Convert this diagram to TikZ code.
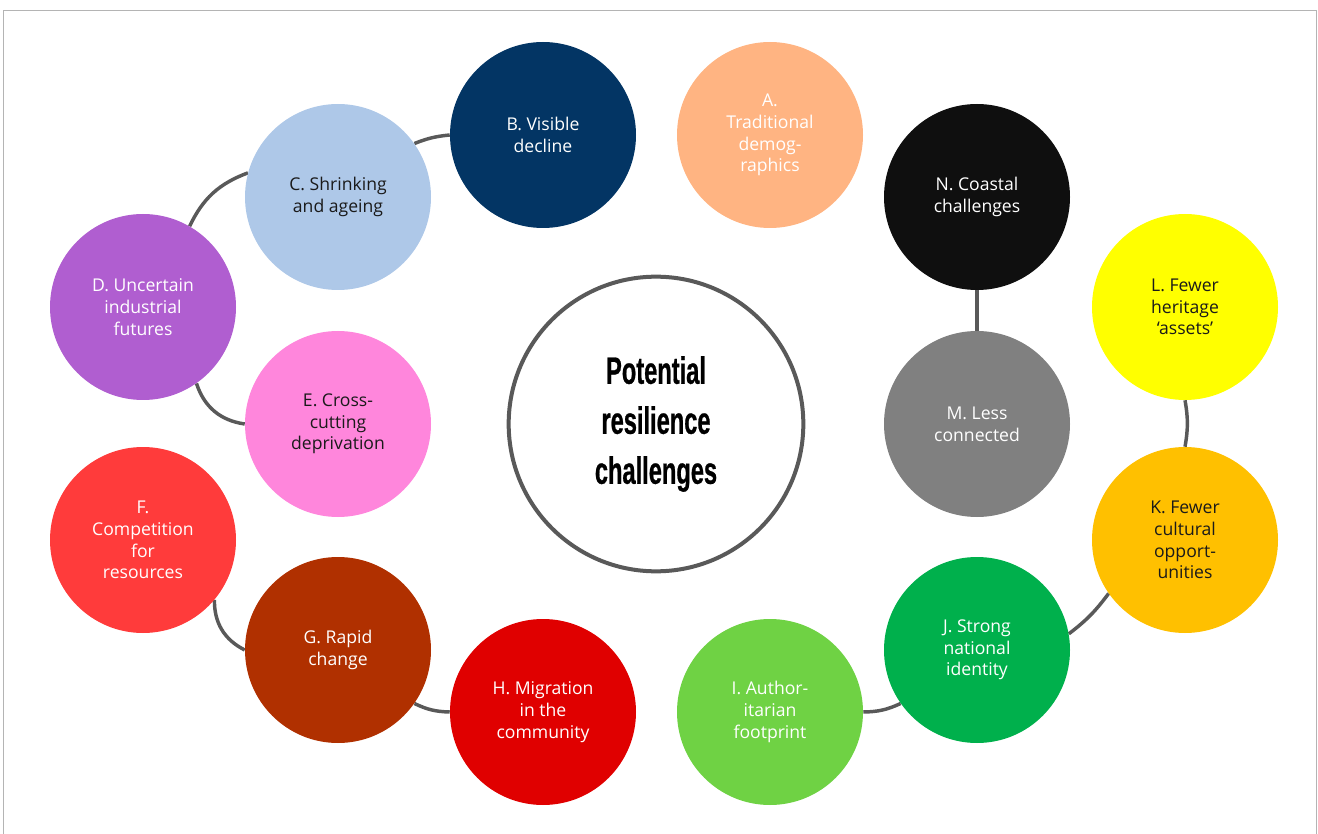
\documentclass[tikz,border=0pt]{standalone}
\usepackage{fontspec}
\usetikzlibrary{backgrounds}
\setmainfont{Open Sans}
\newfontfamily\titlefont[FakeStretch=0.62,FakeBold=0.6]{Liberation Sans Bold}
\definecolor{linegray}{HTML}{595959}
\definecolor{framegray}{HTML}{B4B4B4}
\definecolor{cA}{HTML}{FFB482}
\definecolor{cB}{HTML}{033564}
\definecolor{cC}{HTML}{AEC8E8}
\definecolor{cD}{HTML}{B05ED0}
\definecolor{cE}{HTML}{FF86DC}
\definecolor{cF}{HTML}{FF3B3B}
\definecolor{cG}{HTML}{B03000}
\definecolor{cH}{HTML}{E00000}
\definecolor{cI}{HTML}{6FD244}
\definecolor{cJ}{HTML}{00B04C}
\definecolor{cK}{HTML}{FFC000}
\definecolor{cL}{HTML}{FFFF00}
\definecolor{cM}{HTML}{808080}
\definecolor{cN}{HTML}{0F0F0F}
\definecolor{darktext}{HTML}{1A1A1A}
\tikzset{
  bubble/.style={circle, minimum size=139.5pt, inner sep=0pt, align=center,
    font=\fontsize{13.2}{16.3}\selectfont, text=white, fill=#1},
  darkbubble/.style={bubble=#1, text=darktext},
  hub/.style={circle, minimum size=221pt, inner sep=0pt, align=center,
    draw=linegray, line width=3pt, fill=white,
    font=\titlefont\fontsize{28.6}{37.5}\selectfont},
  link/.style={draw=linegray, line width=2.6pt}
}
\begin{document}
\begin{tikzpicture}[x=0.75pt,y=-0.75pt]
\useasboundingbox (0,0) rectangle (1318,834);
% page frame
\draw[framegray, line width=1.2pt] (3.5,834) -- (3.5,10.5) -- (1316.5,10.5) -- (1316.5,834);

% outer ring of challenges
\node[bubble=cA]     (A) at (770,135) {A.\\Traditional\\demog-\\raphics};
\node[bubble=cB]     (B) at (543,135) {B. Visible\\decline};
\node[darkbubble=cC] (C) at (338,197) {C. Shrinking\\and ageing};
\node[bubble=cD]     (D) at (143,307) {D. Uncertain\\industrial\\futures};
\node[darkbubble=cE] (E) at (338,424) {E. Cross-\\cutting\\deprivation};
\node[bubble=cF]     (F) at (143,540) {F.\\Competition\\for\\resources};
\node[bubble=cG]     (G) at (338,650) {G. Rapid\\change};
\node[bubble=cH]     (H) at (543,712) {H. Migration\\in the\\community};
\node[bubble=cI]     (I) at (770,712) {I. Author-\\itarian\\footprint};
\node[bubble=cJ]     (J) at (977,650) {J. Strong\\national\\identity};
\node[darkbubble=cK] (K) at (1185,540) {K. Fewer\\cultural\\opport-\\unities};
\node[darkbubble=cL] (L) at (1185,307) {L. Fewer\\heritage\\‘assets’};
\node[bubble=cM]     (M) at (977,424) {M. Less\\connected};
\node[bubble=cN]     (N) at (977,197) {N. Coastal\\challenges};

% centre
\node[hub] (hub) at (656,424) {Potential\\resilience\\challenges};

% connectors between neighbouring bubbles, kept behind the bubbles
\begin{scope}[on background layer]
  \draw[link] (B.180) to[bend right=8]  (C.35);
  \draw[link] (C.165) to[bend right=22] (D.60);
  \draw[link] (D.-55) to[bend right=32] (E.180);
  \draw[link] (F.-40) to[bend right=32] (G.180);
  \draw[link] (G.-35) to[bend right=12] (H.180);
  \draw[link] (I.0)   to[bend right=12] (J.215);
  \draw[link] (J.10)  to[bend right=8]  (K.215);
  \draw[link] (K.90)  to[bend right=10] (L.-90);
  \draw[link] (N.south) -- (M.north);
\end{scope}
\end{tikzpicture}
\end{document}
